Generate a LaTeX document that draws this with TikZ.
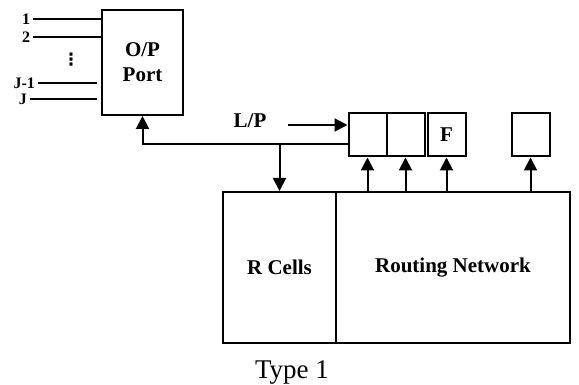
\documentclass[tikz,border=0pt]{standalone}
\usepackage{fontspec}
\setmainfont{Liberation Serif}
\newfontfamily\symfont{DejaVu Sans}
\usetikzlibrary{arrows.meta, positioning}
\tikzset{
    box/.style={draw=black, line width=2pt, inner sep=0pt},
    cell/.style={box, minimum width=38pt, minimum height=43pt},
    lbl/.style={font=\fontsize{21}{25}\selectfont\bfseries},
    pin/.style={font=\fontsize{16}{18}\selectfont\bfseries, left, inner sep=2pt},
    wire/.style={line width=2pt},
    arr/.style={wire, -{Triangle[length=13pt, width=13pt]}}
}
\begin{document}
\begin{tikzpicture}[x=1pt, y=-1pt]
    \useasboundingbox (0,0) rectangle (579,385);
    % output port with its J inputs
    \node[box, lbl, align=center, minimum width=81pt, minimum height=105pt] (port) at (142.5,62.5) {O/P\\Port};
    \coordinate (in1) at (33,19);
    \coordinate (in2) at (33,37);
    \coordinate (in3) at (38,83);
    \coordinate (in4) at (30,99);
    \draw[wire] (in1) node[pin] {1} -- (in1 -| port.west);
    \draw[wire] (in2) node[pin] {2} -- (in2 -| port.west);
    \draw[wire] (in3) node[pin] {J-1} -- ([xshift=-4pt]in3 -| port.west);
    \draw[wire] (in4) node[pin] {J} -- ([xshift=-4pt]in4 -| port.west);
    \node[font=\symfont\bfseries\fontsize{17}{20}\selectfont, inner sep=0pt] (dots) at (71,60) {⋮};
    % buffer cells
    \node[cell] (cell1) at (367.5,135) {};
    \node[cell, right=-2pt of cell1] (cell2) {};
    \node[cell, right=1pt of cell2, lbl] (cell3) {F};
    \node[cell, right=44pt of cell3] (cell4) {};
    % lower blocks
    \node[box, lbl, minimum width=113pt, minimum height=151pt] (rcells) at (279.5,267.5) {R Cells};
    \node[box, lbl, minimum width=234pt, minimum height=151pt, right=-2pt of rcells] (rnet) {Routing Network};
    % connections
    \node[lbl] (lp) at (250,121) {L/P};
    \coordinate (lpin) at (288,125);
    \draw[arr] (lpin) -- (lpin -| cell1.west);
    \draw[arr] (cell1.west |- 0,144) -- (port.south |- 0,144) -- (port.south);
    \draw[arr] (rcells.north |- 0,144) -- (rcells.north);
    \foreach \c in {cell1,cell2,cell3,cell4}
        \draw[arr] (\c.south |- rnet.north) -- (\c.south);
    \node[font=\fontsize{27}{30}\selectfont] (type) at (292,373) {Type 1};
\end{tikzpicture}
\end{document}
